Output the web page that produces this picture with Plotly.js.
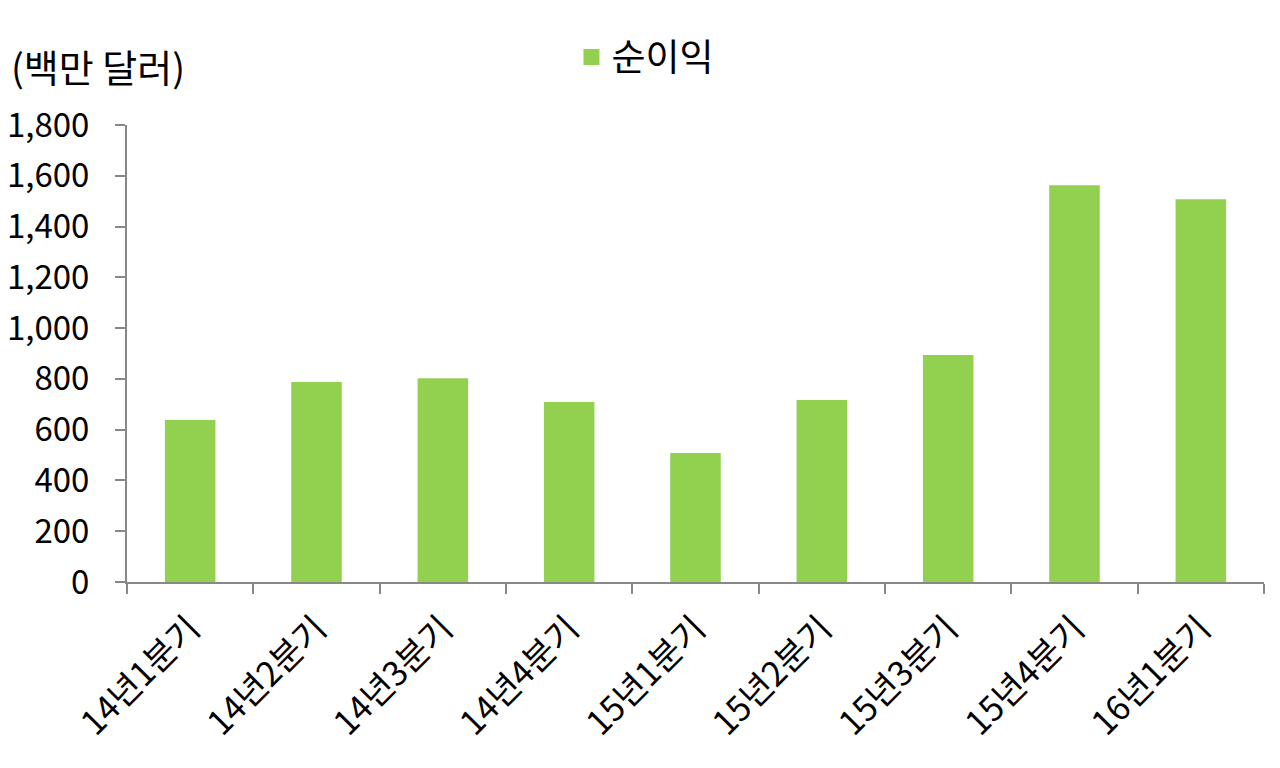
<!DOCTYPE html>
<html>
<head>
<meta charset="utf-8">
<script src="https://cdn.plot.ly/plotly-3.0.1.min.js"></script>
<style>html,body{margin:0;padding:0;background:#fff;}#chart{width:1280px;height:768px;}</style>
</head>
<body>
<div id="chart"></div>
<script>
const categories = ["14년1분기","14년2분기","14년3분기","14년4분기","15년1분기","15년2분기","15년3분기","15년4분기","16년1분기"];
const netIncome = [638, 788, 803, 709, 508, 717, 894, 1563, 1508];
const seriesName = "순이익";
const unitLabel = "(백만 달러)";
const yTickVals = [0,200,400,600,800,1000,1200,1400,1600,1800];

const FONT = "'Noto Sans CJK KR', 'Noto Sans', sans-serif";
const GREEN = "#92D050";

const barTrace = {
  type: "bar",
  x: categories,
  y: netIncome,
  name: seriesName,
  marker: {color: GREEN},
  width: 0.4,
  showlegend: false,
  legendgroup: "ni"
};
// legend entry with a larger square swatch
const legendTrace = {
  type: "scatter", mode: "markers",
  x: [null], y: [null],
  name: seriesName, legendgroup: "ni",
  marker: {symbol: "square", size: 18, color: GREEN},
  showlegend: true, hoverinfo: "skip"
};

const layout = {
  width: 1280, height: 768,
  margin: {l: 127, r: 16, t: 125, b: 186},
  paper_bgcolor: "#fff", plot_bgcolor: "#fff",
  font: {family: FONT, color: "#000", size: 34},
  showlegend: true,
  legend: {orientation: "h", x: 0.456, xanchor: "center", y: 1.148, yanchor: "middle",
           font: {size: 37, family: FONT}, itemwidth: 30, tracegroupgap: 0},
  xaxis: {
    type: "category",
    showline: true, linecolor: "#888", linewidth: 2,
    ticks: "outside", tickson: "boundaries", ticklen: 10, tickcolor: "#888", tickwidth: 2,
    tickangle: -45, tickfont: {size: 34, family: FONT}, ticklabelstandoff: 11,
    showgrid: false, zeroline: false
  },
  yaxis: {
    range: [0, 1800], tickvals: yTickVals, tickformat: ",d",
    showline: true, linecolor: "#888", linewidth: 2,
    ticks: "outside", ticklen: 10, tickcolor: "#888", tickwidth: 2,
    tickfont: {size: 33, family: FONT}, ticklabelstandoff: 19,
    showgrid: false, zeroline: false
  },
  annotations: [{
    text: unitLabel, xref: "paper", yref: "paper", x: -0.104, y: 1.131,
    xanchor: "left", yanchor: "middle", showarrow: false,
    font: {size: 38, family: FONT}
  }]
};
Plotly.newPlot("chart", [barTrace, legendTrace], layout, {displayModeBar: false});
</script>
</body>
</html>
